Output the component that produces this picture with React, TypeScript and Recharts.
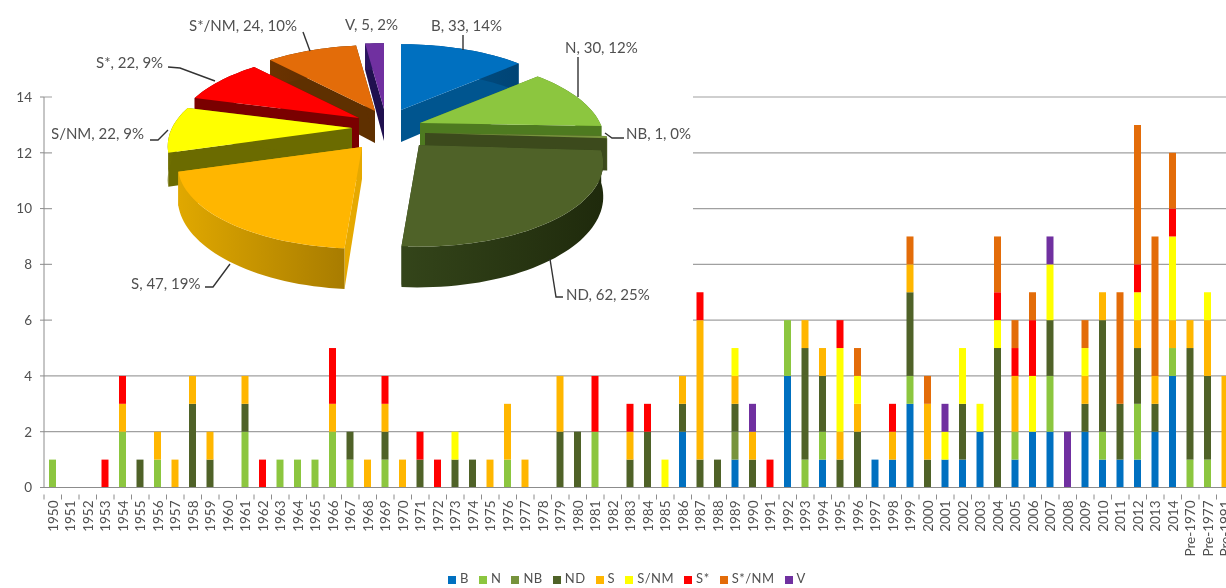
import { BarChart, Bar, XAxis, YAxis, CartesianGrid, Legend, PieChart, Pie } from 'recharts'

// x axis, 1950 to 2014 then the three "Pre-" groups (last one is cut off by the page edge)
const years = Array.from({ length: 65 }, (_, i) => String(1950 + i))
const categories = [...years, 'Pre-1970', 'Pre-1977', 'Pre-1991']

const B = [
  0, 0, 0, 0, 0, 0, 0, 0, 0, 0,
  0, 0, 0, 0, 0, 0, 0, 0, 0, 0,
  0, 0, 0, 0, 0, 0, 0, 0, 0, 0,
  0, 0, 0, 0, 0, 0, 2, 0, 0, 1,
  0, 0, 4, 0, 1, 0, 0, 1, 1, 3,
  0, 1, 1, 2, 0, 1, 2, 2, 0, 2,
  1, 1, 1, 2, 4, 0, 0, 0,
]
const N = [
  1, 0, 0, 0, 2, 0, 1, 0, 0, 0,
  0, 2, 0, 1, 1, 1, 2, 1, 0, 1,
  0, 0, 0, 0, 0, 0, 1, 0, 0, 0,
  0, 2, 0, 0, 0, 0, 0, 0, 0, 0,
  0, 0, 2, 1, 1, 0, 0, 0, 0, 1,
  0, 0, 0, 0, 0, 1, 0, 2, 0, 0,
  1, 0, 2, 0, 1, 1, 1, 0,
]
const NB = [
  0, 0, 0, 0, 0, 0, 0, 0, 0, 0,
  0, 0, 0, 0, 0, 0, 0, 0, 0, 0,
  0, 0, 0, 0, 0, 0, 0, 0, 0, 0,
  0, 0, 0, 0, 0, 0, 0, 0, 0, 1,
  0, 0, 0, 0, 0, 0, 0, 0, 0, 0,
  0, 0, 0, 0, 0, 0, 0, 0, 0, 0,
  0, 0, 0, 0, 0, 0, 0, 0,
]
const ND = [
  0, 0, 0, 0, 0, 1, 0, 0, 3, 1,
  0, 1, 0, 0, 0, 0, 0, 1, 0, 1,
  0, 1, 0, 1, 1, 0, 0, 0, 0, 2,
  2, 0, 0, 1, 2, 0, 1, 1, 1, 1,
  1, 0, 0, 4, 2, 1, 2, 0, 0, 3,
  1, 0, 2, 0, 5, 0, 0, 2, 0, 1,
  4, 2, 2, 1, 0, 4, 3, 0,
]
const S = [
  0, 0, 0, 0, 1, 0, 1, 1, 1, 1,
  0, 1, 0, 0, 0, 0, 1, 0, 1, 1,
  1, 0, 0, 0, 0, 1, 2, 1, 0, 2,
  0, 0, 0, 1, 0, 0, 1, 5, 0, 1,
  1, 0, 0, 1, 1, 1, 1, 0, 1, 1,
  2, 0, 0, 0, 0, 2, 0, 0, 0, 1,
  1, 0, 1, 1, 1, 1, 2, 4,
]
const SNM = [
  0, 0, 0, 0, 0, 0, 0, 0, 0, 0,
  0, 0, 0, 0, 0, 0, 0, 0, 0, 0,
  0, 0, 0, 1, 0, 0, 0, 0, 0, 0,
  0, 0, 0, 0, 0, 1, 0, 0, 0, 1,
  0, 0, 0, 0, 0, 3, 1, 0, 0, 0,
  0, 1, 2, 1, 1, 0, 2, 2, 0, 1,
  0, 0, 1, 0, 3, 0, 1, 0,
]
const SStar = [
  0, 0, 0, 1, 1, 0, 0, 0, 0, 0,
  0, 0, 1, 0, 0, 0, 2, 0, 0, 1,
  0, 1, 1, 0, 0, 0, 0, 0, 0, 0,
  0, 2, 0, 1, 1, 0, 0, 1, 0, 0,
  0, 1, 0, 0, 0, 1, 0, 0, 1, 0,
  0, 0, 0, 0, 1, 1, 2, 0, 0, 0,
  0, 0, 1, 0, 1, 0, 0, 0,
]
const SStarNM = [
  0, 0, 0, 0, 0, 0, 0, 0, 0, 0,
  0, 0, 0, 0, 0, 0, 0, 0, 0, 0,
  0, 0, 0, 0, 0, 0, 0, 0, 0, 0,
  0, 0, 0, 0, 0, 0, 0, 0, 0, 0,
  0, 0, 0, 0, 0, 0, 1, 0, 0, 1,
  1, 0, 0, 0, 2, 1, 1, 0, 0, 1,
  0, 4, 5, 5, 2, 0, 0, 0,
]
const V = [
  0, 0, 0, 0, 0, 0, 0, 0, 0, 0,
  0, 0, 0, 0, 0, 0, 0, 0, 0, 0,
  0, 0, 0, 0, 0, 0, 0, 0, 0, 0,
  0, 0, 0, 0, 0, 0, 0, 0, 0, 0,
  1, 0, 0, 0, 0, 0, 0, 0, 0, 0,
  0, 1, 0, 0, 0, 0, 0, 1, 2, 0,
  0, 0, 0, 0, 0, 0, 0, 0,
]

const seriesNames = ['B', 'N', 'NB', 'ND', 'S', 'S/NM', 'S*', 'S*/NM', 'V']
const seriesValues = [B, N, NB, ND, S, SNM, SStar, SStarNM, V]
const seriesColors = ['#0070c0', '#8cc63f', '#77933c', '#4f6228', '#ffb600', '#ffff00', '#ff0000', '#e36c09', '#7030a0']
const yTicks = [0, 2, 4, 6, 8, 10, 12, 14]

// pie totals and the percentages as printed on the callouts
const pieValues = [33, 30, 1, 62, 47, 22, 22, 24, 5]
const piePercents = [14, 12, 0, 25, 19, 9, 9, 10, 2]

const barData = categories.map((name, i) => {
  const row: any = { name }
  seriesNames.forEach((s, j) => { row[s] = seriesValues[j][i] })
  return row
})
const pieData = seriesNames.map((name, i) => ({ name, value: pieValues[i] }))

const textColor = '#505050'
const font = 'Lato, sans-serif'
const bandWidth = 17.5

// 3D look of the exploded pie
const panelLeft = 52
const pieCx = 390 - panelLeft
const pieCy = 135
const perspective = 0.214
const flatten = 0.444
const wallDepth = 32
const drawOrder = [7, 8, 0, 6, 1, 5, 2, 4, 3]
const explode = [[11, -25], [30, -12], [35, -2], [29, 10], [-28, 12], [-38, -7], [-31, -17], [-15, -24], [-6, -26]]
const wallLight = ['#00558f', '#4e7a20', '#4a5c22', '#34451a', '#e0a800', '#6f6f00', '#7a0000', '#6b3300', '#2a1560']
const wallDark = ['#004475', '#4e7a20', '#3c4a1c', '#1f2a0c', '#a87c00', '#5f5f00', '#7a0000', '#5a2b00', '#2a1560']
const cutColors = ['#00558f', '#4e7a20', '#3c4a1c', '#2b3a14', '#e6a900', '#6b6b00', '#7a0000', '#5f3000', '#20104f']

// [x, y] of each callout text, then its leader line, relative to the pie panel
const labelPos = [[379, 31], [513, 53], [574, 139], [514, 300], [79, 289], [-1, 139], [44, 68], [137, 31], [293, 30]]
const leaders = [
  [[411, 35], [411, 50]],
  [[526, 57], [526, 97]],
  [[553, 133], [560, 138], [572, 138]],
  [[498, 259], [504, 297], [511, 297]],
  [[153, 287], [161, 287], [178, 264]],
  [[98, 140], [106, 140], [116, 130]],
  [[116, 67], [128, 68], [163, 81]],
  [[251, 32], [258, 51]],
  [],
]

function project(cx: number, cy: number, r: number, angle: number) {
  const t = ((90 - angle) * Math.PI) / 180
  const s = 1 / (1 + perspective * Math.cos(t))
  return { x: cx + r * Math.sin(t) * s, y: cy - r * flatten * Math.cos(t) * s, s }
}

const toPath = (pts: any[]) => 'M' + pts.map((p) => `${p.x.toFixed(1)},${p.y.toFixed(1)}`).join('L') + 'Z'

function PieSlice({ cx, cy, outerRadius, startAngle, endAngle, i }: any) {
  const ax = cx + explode[i][0]
  const ay = cy + explode[i][1]
  const arc: any[] = []
  const steps = Math.max(2, Math.ceil((startAngle - endAngle) / 2))
  for (let k = 0; k <= steps; k++) {
    arc.push(project(ax, ay, outerRadius, startAngle + ((endAngle - startAngle) * k) / steps))
  }
  const low = (p: any) => ({ x: p.x, y: p.y + wallDepth * p.s })
  const apex = { x: ax, y: ay, s: 1 }
  const first = arc[0]
  const last = arc[arc.length - 1]
  const gradId = `wall-${i}`
  return (
    <g>
      <defs>
        <linearGradient id={gradId} gradientUnits="userSpaceOnUse" x1={Math.min(first.x, last.x)} x2={Math.max(first.x, last.x)} y1={0} y2={0}>
          <stop offset="0%" stopColor={wallLight[i]} />
          <stop offset="100%" stopColor={wallDark[i]} />
        </linearGradient>
      </defs>
      <path d={toPath([apex, first, low(first), low(apex)])} fill={cutColors[i]} />
      <path d={toPath([apex, last, low(last), low(apex)])} fill={cutColors[i]} />
      <path d={toPath([...arc, ...arc.map(low).reverse()])} fill={`url(#${gradId})`} />
      <path d={toPath([apex, ...arc])} fill={seriesColors[i]} />
    </g>
  )
}

function PieCallout({ index }: any) {
  const [x, y] = labelPos[index]
  const line = leaders[index]
  return (
    <g>
      {line.length > 0 && (
        <polyline points={line.map((p) => p.join(',')).join(' ')} fill="none" stroke="#333" strokeWidth={1.4} />
      )}
      <text x={x} y={y} fontFamily={font} fontSize={15} fill={textColor}>
        {`${seriesNames[index]}, ${pieValues[index]}, ${piePercents[index]}%`}
      </text>
    </g>
  )
}

function YearTick({ x, y, payload }: any) {
  const top = y - 1
  return (
    <g>
      <line x1={x - bandWidth / 2} x2={x - bandWidth / 2} y1={top} y2={top + 5} stroke="#8c8c8c" />
      <text
        x={x}
        y={top + 6}
        transform={`rotate(-90 ${x} ${top + 6})`}
        textAnchor="end"
        dominantBaseline="central"
        fontFamily={font}
        fontSize={13.5}
        fill={textColor}
      >
        {payload.value}
      </text>
    </g>
  )
}

export default function App() {
  return (
    <div style={{ position: 'fixed', inset: 0, overflow: 'hidden', background: '#fff', filter: 'blur(0.4px)' }}>
      <BarChart
        width={1240}
        height={588}
        data={barData}
        margin={{ top: 97, right: 6, left: 0, bottom: 0 }}
      >
        <CartesianGrid vertical={false} stroke="#a0a0a0" strokeWidth={1.2} />
        <XAxis
          dataKey="name"
          interval={0}
          height={100.5}
          tick={<YearTick />}
          tickLine={false}
          axisLine={{ stroke: '#8c8c8c' }}
        />
        <YAxis
          width={44}
          domain={[0, 14]}
          ticks={yTicks}
          tickSize={4}
          tickMargin={8}
          tick={{ fontFamily: font, fontSize: 13.5, fill: textColor }}
          axisLine={{ stroke: '#8c8c8c' }}
          tickLine={{ stroke: '#8c8c8c' }}
        />
        {seriesNames.map((s, i) => (
          <Bar key={s} dataKey={s} stackId="a" fill={seriesColors[i]} barSize={7} isAnimationActive={false} />
        ))}
        <Legend
          verticalAlign="middle"
          align="center"
          iconType="square"
          iconSize={8}
          itemSorter={null}
          wrapperStyle={{ left: 432, top: 570, width: 400, fontFamily: font, fontSize: 13 }}
          formatter={(v: any) => <span style={{ color: textColor, letterSpacing: 0.5 }}>{v}</span>}
        />
      </BarChart>

      {/* white panel of the pie hides the gridlines behind it, as in the original */}
      <div style={{ position: 'absolute', left: panelLeft, top: 0, width: 641, height: 345, background: '#fff' }}>
        <PieChart width={641} height={345} margin={{ top: 0, right: 0, bottom: 0, left: 0 }} style={{ overflow: 'visible' }}>
          {drawOrder.map((i, n) => (
            <Pie
              key={i}
              data={pieData}
              dataKey="value"
              nameKey="name"
              cx={pieCx}
              cy={pieCy}
              outerRadius={180}
              startAngle={90}
              endAngle={-270}
              stroke="none"
              isAnimationActive={false}
              labelLine={false}
              label={n === drawOrder.length - 1 ? <PieCallout /> : false}
              shape={(p: any) => (p.name === seriesNames[i] ? <PieSlice {...p} i={i} /> : <g />)}
            />
          ))}
        </PieChart>
      </div>
    </div>
  )
}
